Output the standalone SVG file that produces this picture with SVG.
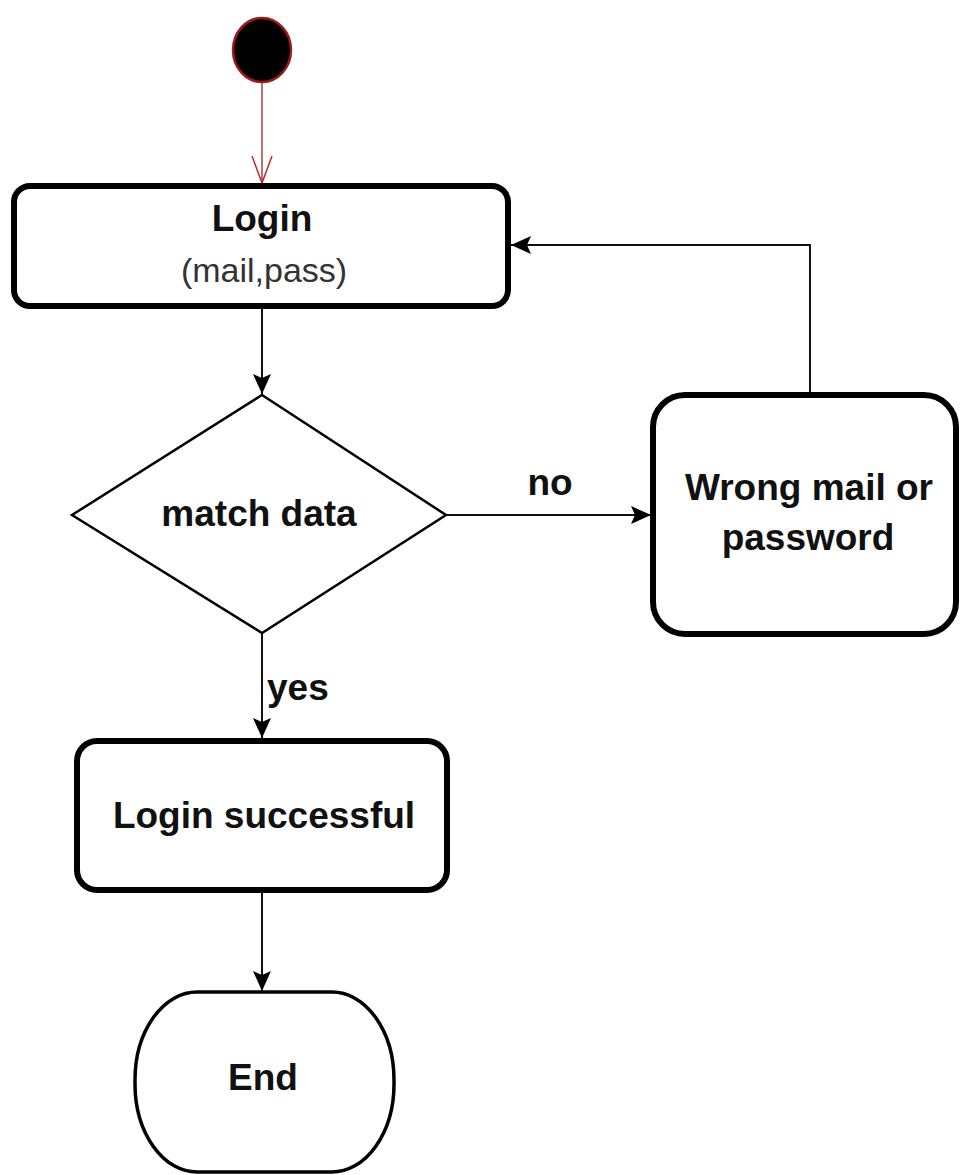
<svg xmlns="http://www.w3.org/2000/svg" width="961" height="1175" viewBox="0 0 961 1175">
<defs>
<style>
.node{fill:#fff;stroke:#000;}
.t{font-family:"Liberation Sans",Arial,sans-serif;font-weight:bold;font-size:37px;fill:#111;text-anchor:middle;}
.s{font-family:"Liberation Sans",Arial,sans-serif;font-size:34px;fill:#333;text-anchor:middle;}
.c{fill:none;stroke:#111;stroke-width:2;}
</style>
<marker id="ah" markerWidth="22" markerHeight="20" refX="20" refY="9" orient="auto" markerUnits="userSpaceOnUse">
<path d="M0,0 L20,9 L0,18 L4,9 Z" fill="#000"/>
</marker>
<marker id="ahr" markerWidth="30" markerHeight="24" refX="27" refY="11" orient="auto" markerUnits="userSpaceOnUse">
<path d="M0,1 L27,11 L0,21" fill="none" stroke="#b03030" stroke-width="1.5"/>
</marker>
</defs>
<rect width="961" height="1175" fill="#fff"/>
<g id="connectors">
<line x1="262" y1="83" x2="262" y2="183" stroke="#a04040" stroke-width="1.5" marker-end="url(#ahr)"/>
<line class="c" x1="262" y1="308" x2="262" y2="394" marker-end="url(#ah)"/>
<line class="c" x1="446" y1="515" x2="651" y2="515" marker-end="url(#ah)"/>
<polyline class="c" points="810,392 810,245 511,245" marker-end="url(#ah)"/>
<line class="c" x1="262" y1="634" x2="262" y2="738" marker-end="url(#ah)"/>
<line class="c" x1="262" y1="892" x2="262" y2="991" marker-end="url(#ah)"/>
<text class="t" x="550" y="495">no</text>
<text class="t" x="267" y="700" style="text-anchor:start">yes</text>
</g>
<g id="start">
<ellipse cx="262" cy="50" rx="29" ry="32" fill="#000" stroke="#a01818" stroke-width="2.5"/>
</g>
<g id="login">
<rect class="node" x="14" y="186" width="494" height="120" rx="16" stroke-width="6"/>
<text class="t" x="262" y="231">Login</text>
<text class="s" x="264" y="282">(mail,pass)</text>
</g>
<g id="match">
<polygon class="node" points="262,395 446,515 262,633 72,515" stroke-width="2.5"/>
<text class="t" x="259" y="526">match data</text>
</g>
<g id="wrong">
<rect class="node" x="653" y="395" width="303" height="239" rx="32" stroke-width="6"/>
<text class="t" x="809" y="500">Wrong mail or</text>
<text class="t" x="808" y="550">password</text>
</g>
<g id="success">
<rect class="node" x="77" y="741" width="370" height="149" rx="20" stroke-width="6"/>
<text class="t" x="264" y="828">Login successful</text>
</g>
<g id="end">
<rect class="node" x="135" y="992" width="259" height="180" rx="62" ry="88" stroke-width="3.5"/>
<text class="t" x="263" y="1090">End</text>
</g>
</svg>
